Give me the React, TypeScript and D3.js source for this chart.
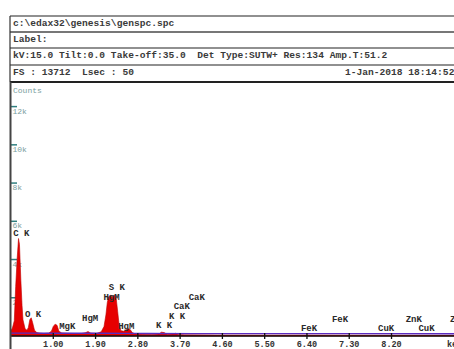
import * as d3 from "d3";

// header text rows
const headerRows = [
  "c:\\edax32\\genesis\\genspc.spc",
  "Label:",
  "kV:15.0 Tilt:0.0 Take-off:35.0  Det Type:SUTW+ Res:134 Amp.T:51.2",
  "FS : 13712  Lsec : 50",
];
const dateText = "1-Jan-2018 18:14:52";

// spectrum (keV, counts)
const spectrumKeV = [
  0.1, 0.13, 0.17, 0.2, 0.23, 0.26, 0.28, 0.31, 0.335, 0.355, 0.4, 0.44, 0.47, 0.5,
  0.53, 0.56, 0.6, 0.65, 0.72, 0.8, 0.9, 0.96, 1.0, 1.04, 1.08, 1.12, 1.18, 1.3,
  1.45, 1.6, 1.68, 1.74, 1.8, 1.92, 2.02, 2.08, 2.12, 2.15, 2.18, 2.22, 2.26, 2.3,
  2.34, 2.37, 2.4, 2.44, 2.5, 2.55, 2.6, 2.64, 2.68, 2.75, 2.9, 3.1, 3.25, 3.3,
  3.36, 3.42, 3.55, 3.6, 3.66, 3.8, 4.5, 5.5, 6.4, 7.0, 8.0, 9.6,
];
const spectrumCounts = [
  300, 420, 800, 2600, 4000, 5100, 4800, 2900, 1600, 850, 380, 300, 450, 850,
  950, 700, 300, 180, 150, 130, 150, 250, 500, 620, 560, 250, 160, 140,
  130, 130, 170, 230, 150, 130, 220, 500, 1100, 1750, 2050, 2150, 2000, 2150,
  1950, 1300, 600, 280, 250, 330, 380, 330, 180, 110, 90, 80, 100, 200,
  180, 90, 110, 140, 80, 60, 50, 45, 50, 45, 40, 35,
];

// fitted background line
const bgKeV = [0.1, 0.5, 1.0, 2.0, 3.0, 5.0, 9.6];
const bgCounts = [150, 150, 140, 140, 130, 125, 120];

// peak labels
const peakNames = ["C K", "O K", "MgK", "HgM", "S K", "HgM", "HgM", "K K", "K K", "CaK", "CaK", "FeK", "FeK", "CuK", "ZnK", "CuK", "ZnK"];
const peakKeV = [0.277, 0.525, 1.253, 1.74, 2.307, 2.195, 2.51, 3.313, 3.59, 3.69, 4.01, 6.4, 7.06, 8.04, 8.63, 8.9, 9.57];
const peakLabelCounts = [5230, 1000, 370, 780, 2400, 1880, 370, 420, 890, 1410, 1880, 260, 730, 260, 730, 260, 730];

const xTickValues = [1.0, 1.9, 2.8, 3.7, 4.6, 5.5, 6.4, 7.3, 8.2];
const yTickValues = [2000, 4000, 6000, 8000, 10000, 12000];

const W = 454;
const H = 349;
const mono = "'Liberation Mono', 'Courier New', monospace";

export default function App() {
  const x = d3.scaleLinear().domain([0.1, 9.53]).range([11, 454]);
  const y = d3.scaleLinear().domain([0, 12000]).range([336, 106.6]);

  const pts = spectrumKeV.map((e, i) => [e, spectrumCounts[i]] as [number, number]);
  const area = d3
    .area<[number, number]>()
    .x((d) => x(d[0]))
    .y0(y(0))
    .y1((d) => y(d[1]));
  const bgPts = bgKeV.map((e, i) => [e, bgCounts[i]] as [number, number]);
  const bgLine = d3
    .line<[number, number]>()
    .x((d) => x(d[0]))
    .y((d) => y(d[1]))
    .curve(d3.curveMonotoneX);

  const rowY = [26, 42, 58, 75];
  const ruleY = [16, 32, 48, 65, 82];

  return (
    <svg
      width={W}
      height={H}
      style={{ position: "absolute", left: 0, top: 0, background: "#fff" }}
    >
      <rect x={0} y={0} width={W} height={H} fill="#fff" />
      {/* header frame */}
      {ruleY.map((ry, i) => (
        <line
          key={ry}
          x1={10}
          x2={W}
          y1={ry}
          y2={ry}
          stroke={i === 1 ? "#777" : "#222"}
          strokeWidth={i === 1 || i === 4 ? 2 : 1.2}
        />
      ))}
      <line x1={10} x2={10} y1={16} y2={82} stroke="#333" strokeWidth={1.2} />
      {headerRows.map((t, i) => (
        <text
          key={i}
          x={13}
          y={rowY[i]}
          fontFamily={mono}
          fontSize={9.6}
          fontWeight="bold"
          fill="#3a3a3a"
          style={{ whiteSpace: "pre" }}
        >
          {t}
        </text>
      ))}
      <text x={345} y={rowY[3]} fontFamily={mono} fontSize={9.6} fontWeight="bold" fill="#3a3a3a">
        {dateText}
      </text>

      {/* counts axis */}
      <text x={13} y={93} fontFamily={mono} fontSize={8} fill="#7a9e9e">
        Counts
      </text>
      {yTickValues.map((v) => (
        <g key={v}>
          <line x1={11} x2={17} y1={y(v)} y2={y(v)} stroke="#2f7f7f" strokeWidth={1.5} />
          <text x={12.5} y={y(v) + 7} fontFamily={mono} fontSize={8} fill="#7a9e9e">
            {v / 1000 + "k"}
          </text>
        </g>
      ))}

      {/* spectrum */}
      <path d={area(pts) ?? ""} fill="#e60000" stroke="#c00000" strokeWidth={0.6} />
      <path d={bgLine(bgPts) ?? ""} fill="none" stroke="#5a2bc0" strokeWidth={1.4} />

      {/* peak labels */}
      {peakNames.map((n, i) => (
        <text
          key={i}
          x={x(peakKeV[i]) - 6}
          y={y(peakLabelCounts[i])}
          fontFamily={mono}
          fontSize={9}
          fontWeight="bold"
          fill="#2a2a2a"
          style={{ whiteSpace: "pre" }}
        >
          {n}
        </text>
      ))}

      {/* energy axis */}
      <line x1={11} x2={W} y1={y(0)} y2={y(0)} stroke="#111" strokeWidth={1.5} />
      {xTickValues.map((v) => (
        <g key={v}>
          <line x1={x(v)} x2={x(v)} y1={y(0) - 3} y2={y(0) + 3} stroke="#111" strokeWidth={1.3} />
          <text
            x={x(v)}
            y={y(0) + 11}
            textAnchor="middle"
            fontFamily={mono}
            fontSize={8.5}
            fontWeight="bold"
            fill="#333"
          >
            {v.toFixed(2)}
          </text>
        </g>
      ))}
      <text x={447} y={y(0) + 11} fontFamily={mono} fontSize={8.5} fontWeight="bold" fill="#333">
        keV
      </text>
      <line x1={10.5} x2={10.5} y1={82} y2={H} stroke="#444" strokeWidth={2} />
    </svg>
  );
}
